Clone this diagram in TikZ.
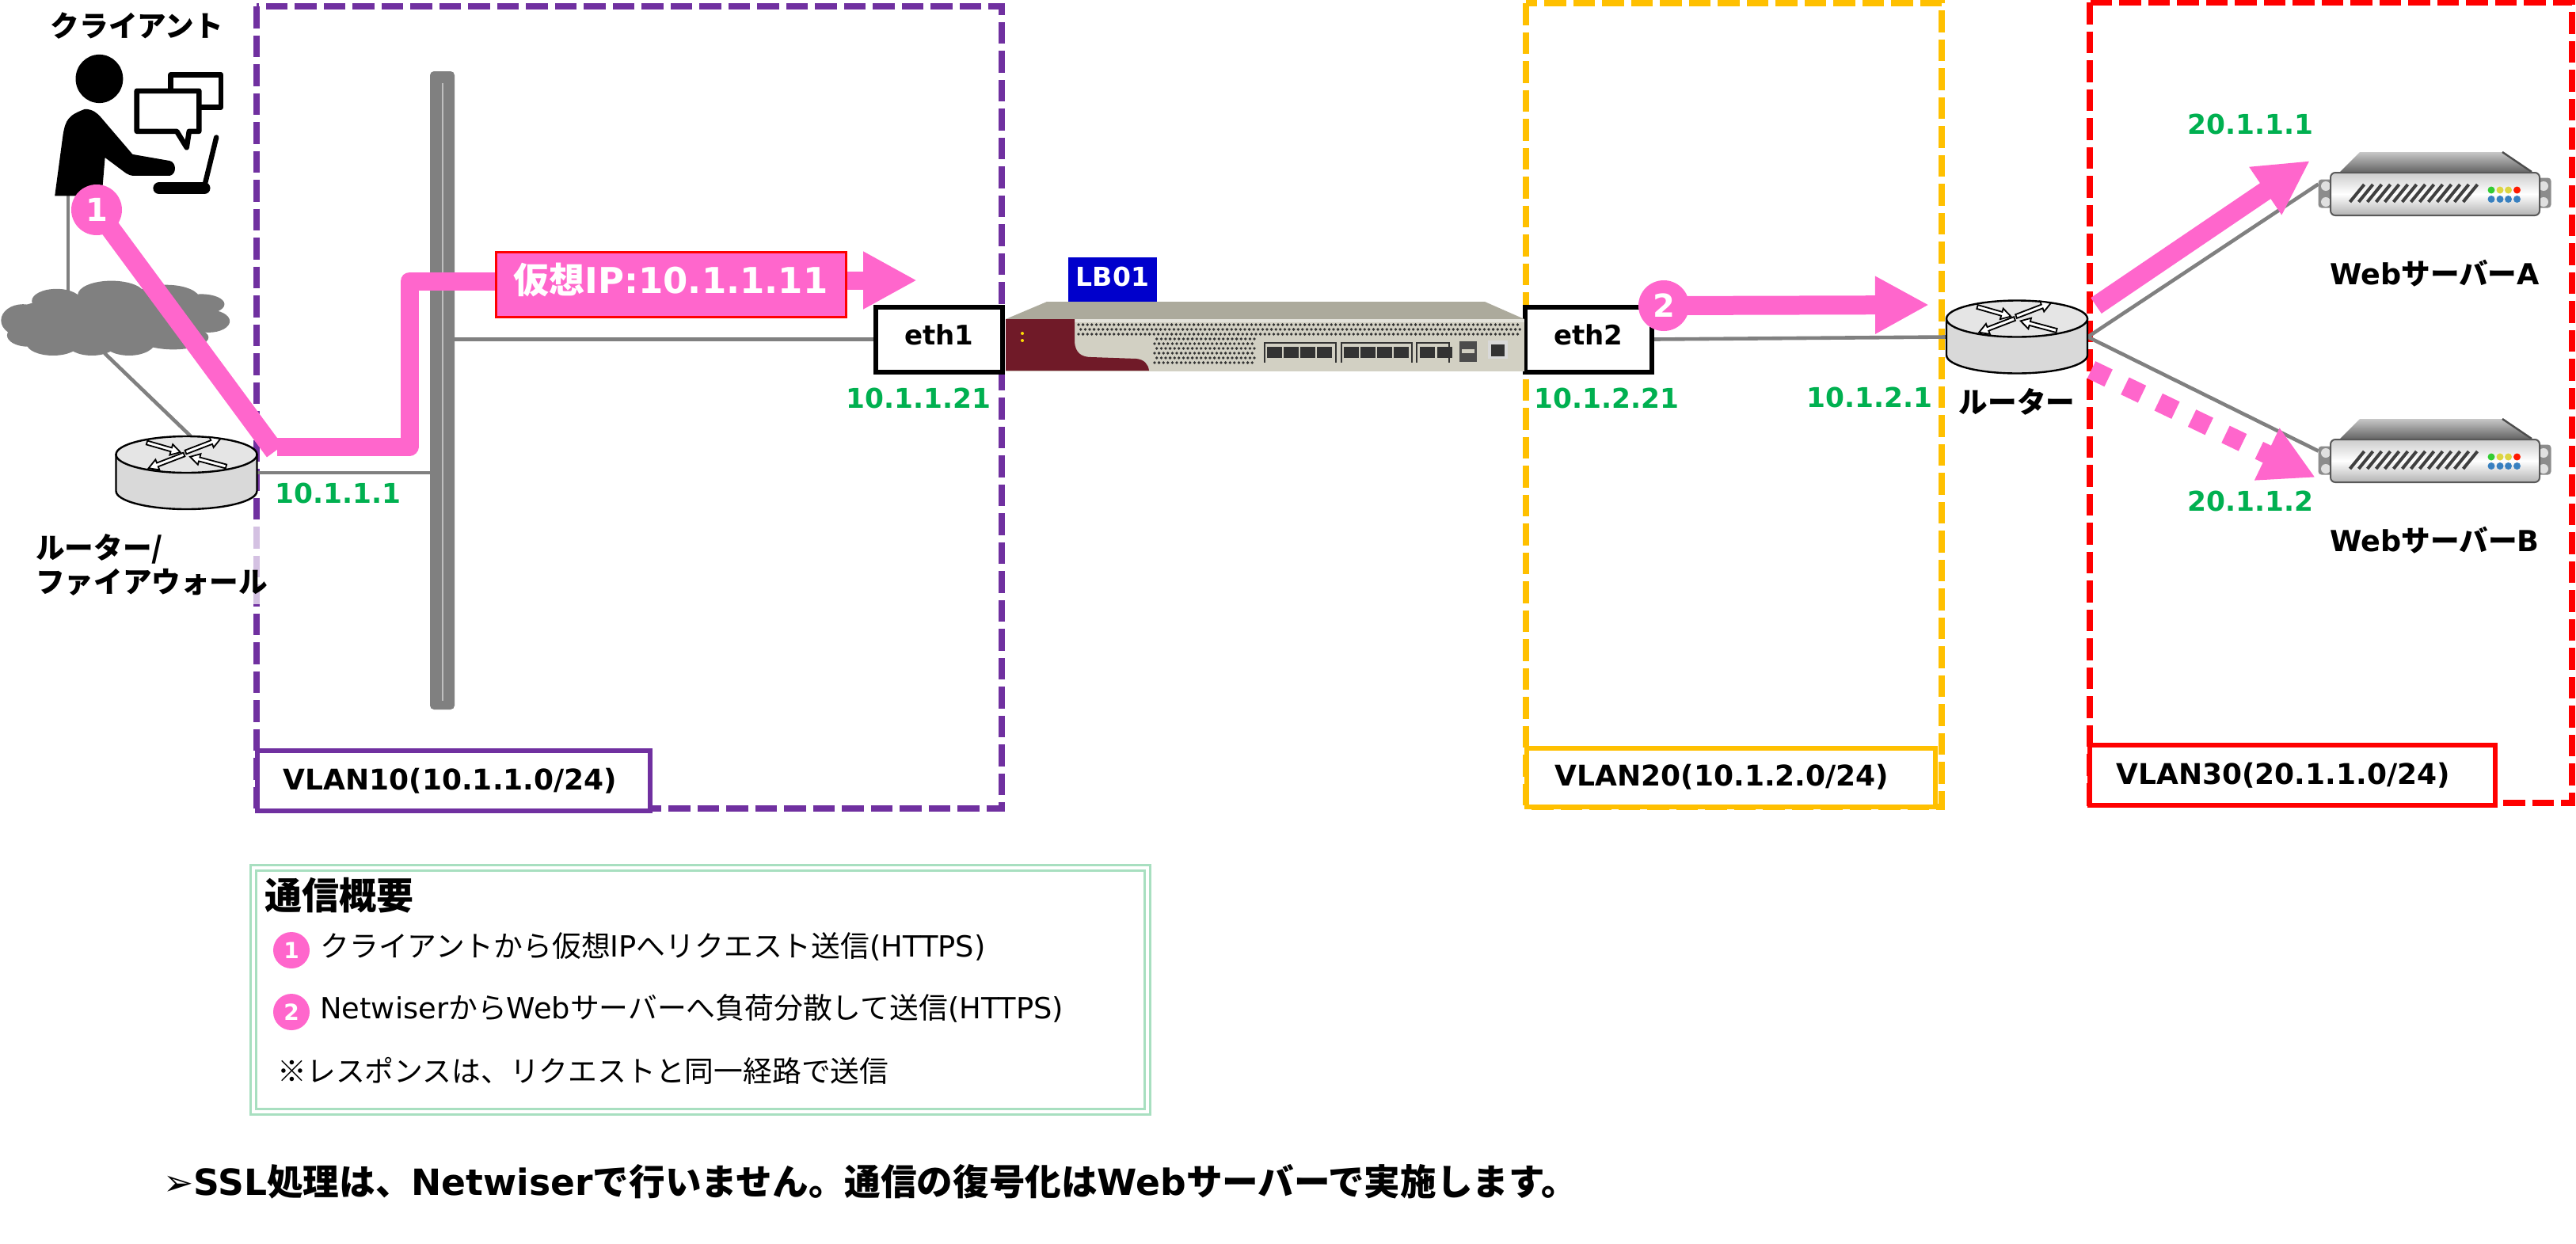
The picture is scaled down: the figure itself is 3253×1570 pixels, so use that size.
\documentclass[tikz,border=0pt]{standalone}
\usepackage{fontspec}
\setmainfont{DejaVu Sans}
\newfontfamily\jp{Noto Sans CJK JP}
\usetikzlibrary{positioning,arrows.meta}

\definecolor{vlanpurple}{HTML}{7030A0}
\definecolor{vlanyellow}{HTML}{FFC000}
\definecolor{vlanred}{HTML}{FF0000}
\definecolor{flowpink}{HTML}{FF66CC}
\definecolor{ipgreen}{HTML}{00B050}
\definecolor{netgray}{HTML}{808080}
\definecolor{lbblue}{HTML}{0000CC}
\definecolor{notegreen}{HTML}{A8DFC0}
\definecolor{lbtop}{HTML}{ACAA9C}
\definecolor{lbfront}{HTML}{D2D0C3}
\definecolor{lbpanel}{HTML}{701A28}

\tikzset{
	vlanbox/.style={draw=#1, line width=4pt, dash pattern=on 13.75pt off 4.5pt},
	vlantag/.style={draw=#1, line width=3pt, fill=white, inner sep=0pt, font=\fontsize{18pt}{22pt}\selectfont\bfseries},
	wire/.style={draw=netgray, line width=2.3pt},
	flow/.style={draw=flowpink, line width=11.5pt},
	flowtip/.style={flow, -{Triangle[length=34pt,width=34pt]}},
	badge/.style={circle, fill=flowpink, text=white, inner sep=0pt, minimum size=32pt, font=\fontsize{20pt}{24pt}\selectfont\bfseries},
	smallbadge/.style={circle, fill=flowpink, text=white, inner sep=0pt, minimum size=23pt, font=\fontsize{14pt}{16pt}\selectfont\bfseries},
	lbl/.style={inner sep=0pt, font=\fontsize{18.3pt}{21.5pt}\selectfont\bfseries},
	iplbl/.style={inner sep=0pt, text=ipgreen, font=\fontsize{17.2pt}{20pt}\selectfont\bfseries},
	notetext/.style={inner sep=0pt, anchor=west, font=\fontsize{18.4pt}{22pt}\selectfont},
	ethbox/.style={draw=black, line width=3pt, fill=white, minimum width=80pt, minimum height=41pt, inner sep=0pt, text depth=6pt, font=\fontsize{17pt}{20pt}\selectfont\bfseries},
	routerbox/.style={minimum width=89pt, minimum height=46pt, inner sep=0pt},
	serverbox/.style={minimum width=146.5pt, minimum height=40.5pt, inner sep=0pt},
	router/.pic={
		\draw[line width=1.2pt, fill=black!15] (-89,-23) -- (-89,23) arc [start angle=180, end angle=360, x radius=44.5pt, y radius=11.5pt] -- (89,-23) -- cycle;
		\draw[line width=1.2pt, fill=black!10] (0,-23) ellipse [x radius=89, y radius=23];
		% four arrows on the lid
		\foreach \ax/\ay/\ang/\len in {-50/-38/-16/44, -1/-26/21/47, -3/-23/201/48, 50/-8/165/47}
			\draw[line width=.9pt, fill=white, shift={(\ax,\ay)}, rotate=\ang]
				(0,-2.5) -- (\len-12,-2.5) -- (\len-12,-7) -- (\len,0) -- (\len-12,7) -- (\len-12,2.5) -- (0,2.5) -- cycle;
	},
	webserver/.pic={
		\shade[top color=black!22, bottom color=black!60] (-94.5,-40.5) -- (85.5,-40.5) -- (122.5,-15.5) -- (-119.5,-15.5) -- cycle;
		\draw[black!70, line width=1.2pt] (85.5,-40.5) -- (122.5,-15.5);
		\fill[black!45, rounded corners=2pt] (-147,-6) rectangle (-128,30);
		\fill[black!45, rounded corners=2pt] (128,-8) rectangle (147,30);
		\foreach \ex in {-137.5,137.5} {
			\fill[black!12] (\ex,2.5) circle [radius=6];
			\fill[black!12] (\ex,22.5) circle [radius=6];
		}
		\shade[draw=black!65, line width=1pt, rounded corners=3pt, top color=black!20, bottom color=black!30, middle color=white] (-131.5,-14.5) rectangle (132.5,39.5);
		\foreach \h in {-107,-96,...,38}
			\draw[black!75, line width=2pt] (\h,22.5) -- (\h+18,.5);
		\foreach \h/\c in {71.5/green!60!gray, 82.5/yellow!70!gray, 93/yellow!70!gray, 104/red!80!orange}
			\fill[\c] (\h,7.5) circle [radius=4.5];
		\foreach \h in {71.5,82.5,93,104}
			\fill[cyan!60!blue!80!gray] (\h,19) circle [radius=4.5];
	}
}

\begin{document}
\begin{tikzpicture}[x=.5pt, y=-.5pt]
	\useasboundingbox (0,0) rectangle (3253,1570);

	% VLANs
	\draw[vlanbox=vlanpurple] (324,8) rectangle (1265,1021);
	\draw[vlanbox=vlanyellow] (1927,4) rectangle (2452,1019);
	\draw[vlanbox=vlanred] (2639,3) rectangle (3248,1014);
	\node[vlantag=vlanpurple, minimum width=248pt, minimum height=38pt] (vlan10) at (572.5,986) {VLAN10(10.1.1.0/24)\hspace{4pt}\mbox{}};
	\node[vlantag=vlanyellow, minimum width=258pt, minimum height=37pt] (vlan20) at (2185.5,981.5) {VLAN20(10.1.2.0/24)\hspace{11pt}\mbox{}};
	\node[vlantag=vlanred, minimum width=256pt, minimum height=38pt] (vlan30) at (2895,979) {VLAN30(20.1.1.0/24)\hspace{12pt}\mbox{}};

	% nodes
	\node[inner sep=0pt, minimum width=60pt, minimum height=60pt] (client) at (160,155) {};
	\node[inner sep=0pt, minimum width=145pt, minimum height=45pt] (cloud) at (145,405) {};
	\node[routerbox] (fw) at (235.5,597) {};
	\node[fill=netgray, rounded corners=2.5pt, minimum width=15.5pt, minimum height=403pt, inner sep=0pt] (bus) at (558.5,493) {};
	\node[ethbox] (eth1) at (1186,428.5) {eth1};
	\node[ethbox] (eth2) at (2006,428.5) {eth2};
	\node[routerbox] (gw) at (2547,425.5) {};
	\node[serverbox] (srva) at (3074.5,232.5) {};
	\node[serverbox] (srvb) at (3074.5,569.5) {};

	% wires
	\draw[wire] (86,247) -- (86,367);
	\draw[wire] (132,446) -- (241,551);
	\draw[wire] (fw.east |- 0,597) -- (bus.west |- 0,597);
	\draw[wire] (bus.east |- eth1.west) -- (eth1.west);
	\draw[wire] (eth2.east) -- (gw.west);
	\draw[wire] (gw.east) -- (srva.west);
	\draw[wire] (gw.east) -- (srvb.west);
	\draw[black!25, line width=1pt] (558.5,105) -- (558.5,885);

	% client
	\begin{scope}[x=.2232pt, y=-.2551pt]
		\fill (281,195) ellipse [x radius=67, y radius=60];
		\fill (155,485) -- (178,335) .. controls (185,295) and (195,285) .. (240,270) .. controls (262,270) and (275,280) .. (285,290) -- (375,382) -- (480,398) .. controls (500,402) and (500,432) .. (480,435) -- (380,435) .. controls (360,435) and (352,425) .. (340,418) -- (297,390) -- (288,485) -- cycle;
		\draw[line width=3.3pt, fill=white, line join=round] (483,185) rectangle (625,265);
		\draw[line width=3.3pt, fill=white, line join=round] (387,225) -- (563,225) -- (563,325) -- (535,325) -- (528,365) -- (500,325) -- (387,325) -- cycle;
		\draw[line width=3.2pt, line cap=round] (612,340) -- (578,462);
		\draw[line width=7.5pt, line cap=round] (450,466) -- (578,466);
		% cloud
		\foreach \cx/\cy/\rx/\ry in {65/793/62/40, 160/745/70/30, 315/730/95/35, 470/740/95/35, 570/753/65/25, 590/795/60/28, 80/830/60/28, 150/850/75/30, 260/850/70/30, 365/845/75/35, 490/835/100/30, 300/790/280/60}
			\fill[netgray] (\cx,\cy) ellipse [x radius=\rx, y radius=\ry];
	\end{scope}

	% LB01
	\node[fill=lbblue, text=white, minimum width=56pt, minimum height=28pt, inner sep=0pt, text depth=4pt, font=\fontsize{16.5pt}{20pt}\selectfont\bfseries] (lb) at (1405,353) {LB01};
	\fill[lbtop] (1322,381) -- (1875,381) -- (1925,403) -- (1270,403) -- cycle;
	\fill[lbfront] (1270,403) rectangle (1925,469);
	\fill[lbfront!60!white] (1357,403) rectangle (1925,407);
	% mesh
	\foreach \ry/\ro in {410/0,416/2.8,422/0}
		\foreach \rx in {1362,1367.6,...,1922}
			\fill[black!80] (\rx+\ro,\ry) circle [radius=1.9];
	\foreach \ry/\ro in {428/2.8,434/0,440/2.8,446/0,452/2.8,458/0}
		\foreach \rx in {1458,1463.6,...,1584}
			\fill[black!80] (\rx+\ro,\ry) circle [radius=1.9];
	\fill[lbpanel] (1270,403) -- (1357,403) -- (1357,432) .. controls (1358,445) and (1365,451) .. (1378,451) -- (1435,453) .. controls (1445,454) and (1450,460) .. (1451,468) -- (1270,468) -- cycle;
	\fill[yellow!80!orange] (1291,421) circle [radius=2];
	\fill[yellow!80!orange] (1291,430) circle [radius=2];
	% ports
	\foreach \px/\pw in {1597/90, 1694/89, 1789/41}
		\draw[black!80, line width=.6pt] (\px,458) -- (\px,433) -- (\px+\pw,433) -- (\px+\pw,458);
	\foreach \px in {1600,1621,1642,1663,1697,1718,1739,1760,1793,1815}
		\fill[black!80] (\px,438) rectangle (\px+19,452);
	\fill[black!70] (1843,431) rectangle (1865,457);
	\fill[lbfront] (1846,441) rectangle (1862,446);
	\fill[black!15] (1879,430) rectangle (1904,453);
	\fill[black!80] (1883,435) rectangle (1900,450);

	% routers, servers
	\pic at (fw) {router};
	\pic at (gw) {router};
	\pic at (srva) {webserver};
	\pic at (srvb) {webserver};

	% labels
	\node[lbl] (clientlabel) at (173,33) {\jp クライアント};
	\node[lbl, anchor=north west, align=left, fill=white, fill opacity=.7, text opacity=1, minimum height=50pt, minimum width=146pt] (fwlabel) at (45,663) {\jp ルーター/\\\jp ファイアウォール};
	\node[lbl, below=9pt of gw] (gwlabel) {\jp ルーター};
	\node[lbl, below=27pt of srva] (srvalabel) {Web{\jp サーバー}A};
	\node[lbl, below=27pt of srvb] (srvblabel) {Web{\jp サーバー}B};
	\node[iplbl] (ipfw) at (427,623) {10.1.1.1};
	\node[iplbl] (ipeth1) at (1160,503) {10.1.1.21};
	\node[iplbl] (ipeth2) at (2029,503) {10.1.2.21};
	\node[iplbl] (ipgw) at (2361,502) {10.1.2.1};
	\node[iplbl] (ipsrva) at (2842,157) {20.1.1.1};
	\node[iplbl] (ipsrvb) at (2842,633) {20.1.1.2};

	% flows
	\node[badge] (step1) at (122,265) {1};
	\coordinate (bend1) at (347,570);
	\coordinate (bend2) at (350,564);
	\coordinate (bend3) at (517,564);
	\coordinate (bend4) at (517,355);
	\node[draw=vlanred, line width=1.5pt, fill=flowpink, text=white, minimum width=221pt, minimum height=41pt, inner sep=0pt, text depth=8pt, font=\fontsize{22.5pt}{26pt}\selectfont\bfseries] (vip) at (847,359) {{\jp 仮想}IP:10.1.1.11};
	\coordinate (viptip) at (1158,354);
	\draw[flow, line width=12.5pt, shorten <=-5pt] (step1) -- (bend1);
	\draw[flow, line join=round] (bend2) -- (bend3) -- (bend4) -- (vip.west |- bend4);
	\draw[flowtip] (vip.east |- viptip) -- (viptip);

	\node[badge] (step2) at (2101,386) {2};
	\coordinate (gwtip) at (2436,385);
	\draw[flowtip, line width=12pt, shorten <=-5pt] (step2) -- (gwtip);
	\coordinate (atail) at (2647,386);
	\coordinate (atip) at (2917,203);
	\draw[flowtip, line width=12pt] (atail) -- (atip);
	\coordinate (btail) at (2641,467);
	\coordinate (btip) at (2924,603);
	\draw[flowtip, line width=12pt, dash pattern=on 12pt off 11.5pt] (btail) -- (btip);

	% summary
	\node[draw=notegreen, double, line width=1.4pt, double distance=2pt, minimum width=564.5pt, minimum height=154pt, inner sep=0pt] (summary) at (884.5,1250) {};
	\node[lbl, anchor=west, font=\fontsize{23.5pt}{28pt}\selectfont\bfseries] (title) at (334,1131) {\jp 通信概要};
	\node[smallbadge] (s1) at (368,1200) {1};
	\node[notetext] (line1) at (404,1195) {{\jp クライアントから仮想}IP{\jp へリクエスト送信}(HTTPS)};
	\node[smallbadge] (s2) at (368,1278) {2};
	\node[notetext] (line2) at (404,1273) {Netwiser{\jp から}Web{\jp サーバーへ負荷分散して送信}(HTTPS)};
	\node[notetext] (line3) at (350,1352) {\jp ※レスポンスは、リクエストと同一経路で送信};

	\node[lbl, anchor=west, font=\fontsize{22.8pt}{26pt}\selectfont\bfseries] (closing) at (206,1492) {➢SSL{\jp 処理は、}Netwiser{\jp で行いません。通信の復号化は}Web{\jp サーバーで実施します。}};
\end{tikzpicture}
\end{document}
